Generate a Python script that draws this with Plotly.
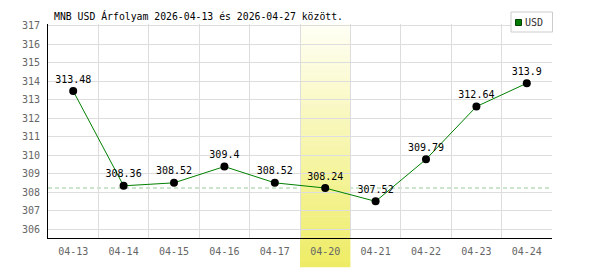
import plotly.graph_objects as go

# ---- data ----
dates = ["04-13", "04-14", "04-15", "04-16", "04-17", "04-20", "04-21", "04-22", "04-23", "04-24"]
usd = [313.48, 308.36, 308.52, 309.4, 308.52, 308.24, 307.52, 309.79, 312.64, 313.9]
labels = [str(v) for v in usd]
highlight_date = "04-20"
title_text = "MNB USD Árfolyam 2026-04-13 és 2026-04-27 között."
series_name = "USD"
y_ticks = list(range(306, 318))

MONO = "DejaVu Sans Mono"
W, H = 600, 270
ML, MR, MT, MB = 48, 48, 24, 32
PW, PH = W - ML - MR, H - MT - MB


def px_x(p):
    return (p - ML) / PW


def px_y(p):
    return (H - MB - p) / PH


fig = go.Figure()
fig.add_trace(go.Scatter(
    x=dates, y=usd, mode="lines+markers+text",
    line=dict(color="#008000", width=1),
    marker=dict(color="#000000", size=8),
    text=labels, textposition="top center",
    textfont=dict(family=MONO, size=10, color="#000000"),
    cliponaxis=False, showlegend=False, name=series_name,
    hoverinfo="x+y",
))

shapes = []
# reference dashed line at highlighted date's value
ref_val = usd[dates.index(highlight_date)]
shapes.append(dict(type="line", xref="paper", yref="y", x0=0, x1=1, y0=ref_val, y1=ref_val,
                   line=dict(color="#99cc99", width=1, dash="4px,3px"), layer="below"))

# gradient highlight column
hi = dates.index(highlight_date)
top_p, bot_p = px_y(24), px_y(267)
n = 48
c_top = (255, 255, 246)
c_bot = (238, 236, 100)
for i in range(n):
    t = (i + 0.5) / n
    r = round(c_top[0] + (c_bot[0] - c_top[0]) * t)
    g = round(c_top[1] + (c_bot[1] - c_top[1]) * t)
    b = round(c_top[2] + (c_bot[2] - c_top[2]) * t)
    y1 = top_p + (bot_p - top_p) * i / n
    y0 = top_p + (bot_p - top_p) * (i + 1) / n
    shapes.append(dict(type="rect", xref="x", yref="paper", x0=hi - 0.5, x1=hi + 0.5,
                       y0=y0 - 0.001, y1=y1 + 0.001, line=dict(width=0),
                       fillcolor=f"rgb({r},{g},{b})", layer="between"))

# legend box
shapes.append(dict(type="rect", xref="paper", yref="paper",
                   x0=px_x(511), x1=px_x(552.5), y0=px_y(32), y1=px_y(12),
                   line=dict(color="#cccccc", width=1), fillcolor="#ffffff", layer="above"))
shapes.append(dict(type="rect", xref="paper", yref="paper",
                   x0=px_x(515.5), x1=px_x(521.5), y0=px_y(25.5), y1=px_y(19.5),
                   line=dict(color="#004000", width=1), fillcolor="#007a00", layer="above"))

annotations = [
    dict(text=title_text, xref="paper", yref="paper", x=px_x(52), y=px_y(16.5),
         xanchor="left", yanchor="middle", showarrow=False,
         font=dict(family=MONO, size=9.8, color="#000000")),
    dict(text=series_name, xref="paper", yref="paper", x=px_x(523), y=px_y(22),
         xanchor="left", yanchor="middle", showarrow=False,
         font=dict(family=MONO, size=10, color="#333333")),
]

fig.update_layout(
    width=W, height=H, margin=dict(l=ML, r=MR, t=MT, b=MB, pad=0),
    paper_bgcolor="#ffffff", plot_bgcolor="#ffffff",
    shapes=shapes, annotations=annotations, showlegend=False,
    font=dict(family=MONO, size=10, color="#666666"),
)
fig.update_xaxes(
    type="category", categoryorder="array", categoryarray=dates,
    range=[-0.5, len(dates) - 0.5], tickson="boundaries",
    showgrid=True, gridcolor="#dddddd", gridwidth=1,
    showline=True, linecolor="#000000", linewidth=1,
    ticks="", tickfont=dict(family=MONO, size=10, color="#666666"),
    ticklabelstandoff=4, zeroline=False, fixedrange=True,
)
fig.update_yaxes(
    range=[305.54, 317.1], tickmode="array", tickvals=y_ticks,
    ticktext=[str(v) for v in y_ticks],
    showgrid=True, gridcolor="#dddddd", gridwidth=1,
    showline=True, linecolor="#000000", linewidth=1,
    ticks="", tickfont=dict(family=MONO, size=10, color="#666666"),
    ticklabelstandoff=5, zeroline=False, fixedrange=True,
)

fig.write_html("out.html", config={"displayModeBar": False})
